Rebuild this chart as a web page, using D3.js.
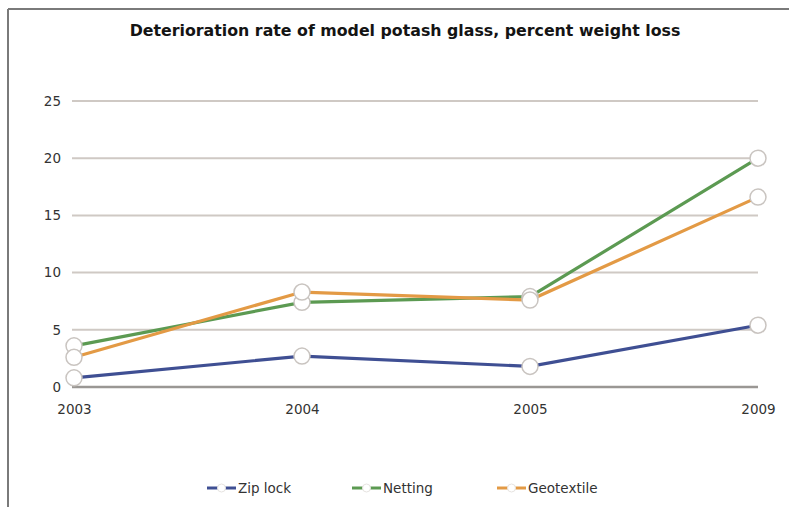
<!DOCTYPE html>
<html><head><meta charset="utf-8">
<script src="https://cdn.jsdelivr.net/npm/d3@7"></script>
<style>body{margin:0;background:#fff}</style>
</head><body>
<script>
const years = ["2003", "2004", "2005", "2009"];
const zipLock = [0.8, 2.7, 1.8, 5.4];
const netting = [3.6, 7.4, 7.9, 20.0];
const geotextile = [2.6, 8.3, 7.6, 16.6];
const yTicks = [0, 5, 10, 15, 20, 25];
const seriesNames = ["Zip lock", "Netting", "Geotextile"];
const seriesColors = ["#3f4f93", "#5c9a52", "#e39a45"];
const seriesData = [zipLock, netting, geotextile];

const FONT = "'DejaVu Sans', Verdana, sans-serif";
const W = 789, H = 507;
const svg = d3.select("body").append("svg").attr("width", W).attr("height", H)
  .style("font-family", FONT);

// frame
svg.append("line").attr("x1", 8).attr("x2", W).attr("y1", 9).attr("y2", 9).attr("stroke", "#7a7a7a").attr("stroke-width", 2);
svg.append("line").attr("x1", 8).attr("x2", 8).attr("y1", 9).attr("y2", H).attr("stroke", "#7a7a7a").attr("stroke-width", 2);

const x = d3.scalePoint().domain(years).range([74, 758]);
const y = d3.scaleLinear().domain([0, 25]).range([387, 101]);

// title
svg.append("text").attr("x", 405).attr("y", 36).attr("text-anchor", "middle")
  .attr("font-weight", "bold").attr("font-size", 15.8).attr("fill", "#141414")
  .text("Deterioration rate of model potash glass, percent weight loss");

// gridlines
svg.append("g").selectAll("line").data(yTicks).join("line")
  .attr("x1", 72).attr("x2", 758)
  .attr("y1", d => y(d)).attr("y2", d => y(d))
  .attr("stroke", d => d === 0 ? "#9a9794" : "#cfc9c4").attr("stroke-width", d => d === 0 ? 2.5 : 2);

// y axis labels
const yAxis = d3.axisLeft(y).tickValues(yTicks).tickSize(0).tickPadding(0);
const gy = svg.append("g").attr("transform", "translate(61,0)").call(yAxis);
gy.select(".domain").remove();
gy.selectAll("text").attr("font-size", 13.5).attr("fill", "#333").attr("font-family", FONT);

// x axis labels
const xAxis = d3.axisBottom(x).tickSize(0).tickPadding(0);
const gx = svg.append("g").attr("transform", "translate(0,404)").call(xAxis);
gx.select(".domain").remove();
gx.selectAll("text").attr("font-size", 13.5).attr("fill", "#333").attr("font-family", FONT);

// lines
const line = d3.line().x((d, i) => x(years[i])).y(d => y(d));
seriesData.forEach((data, si) => {
  svg.append("path").datum(data).attr("d", line).attr("fill", "none")
    .attr("stroke", seriesColors[si]).attr("stroke-width", 3.2);
});
seriesData.forEach((data, si) => {
  svg.append("g").selectAll("circle").data(data).join("circle")
    .attr("cx", (d, i) => x(years[i])).attr("cy", d => y(d)).attr("r", 8)
    .attr("fill", "#fff").attr("stroke", "#c9c4c0").attr("stroke-width", 1.5);
});

// legend
const legendX = [207, 352, 497];
seriesNames.forEach((name, i) => {
  const g = svg.append("g").attr("transform", `translate(${legendX[i]},488)`);
  g.append("line").attr("x1", 0).attr("x2", 29).attr("stroke", seriesColors[i]).attr("stroke-width", 3);
  g.append("circle").attr("cx", 14.5).attr("r", 4).attr("fill", "#fff").attr("stroke", "#e6e3e0").attr("stroke-width", 1);
  g.append("text").attr("x", 31).attr("y", 5).attr("font-size", 13.5).attr("fill", "#333").text(name);
});
</script>
</body></html>
